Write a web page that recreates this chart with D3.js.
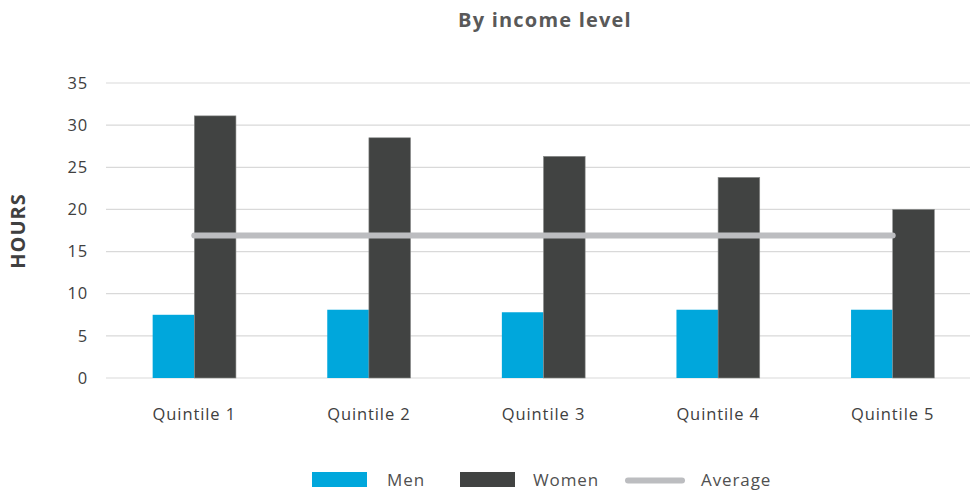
<!DOCTYPE html>
<html><head><meta charset="utf-8">
<script src="https://cdn.jsdelivr.net/npm/d3@7"></script>
<style>body{margin:0;background:#fff;} svg{display:block;font-family:"Open Sans",Lato,sans-serif;}</style>
</head><body>
<svg id="chart" width="970" height="492"></svg>
<script>
const categories = ["Quintile 1","Quintile 2","Quintile 3","Quintile 4","Quintile 5"];
const men = [7.5, 8.1, 7.8, 8.1, 8.1];
const women = [31.1, 28.5, 26.3, 23.8, 20.0];
const average = [16.9, 16.9, 16.9, 16.9, 16.9];
const yTicks = [0,5,10,15,20,25,30,35];
const seriesNames = ["Men","Women","Average"];
const colors = {Men:"#00a7dc", Women:"#414342", Average:"#bcbdc0"};

const svg = d3.select("#chart");
const x0 = d3.scaleBand().domain(categories).range([107, 980]).paddingInner(0.523).paddingOuter(0.2615);
const x1 = d3.scaleBand().domain(["Men","Women"]).range([0, x0.bandwidth()]);
const y = d3.scaleLinear().domain([0,35]).range([378, 83]);

// gridlines
svg.append("g").selectAll("line").data(yTicks).join("line")
  .attr("x1",106).attr("x2",970).attr("y1",d=>y(d)).attr("y2",d=>y(d))
  .attr("stroke","#d9d9d9").attr("stroke-width",1.2);

// y axis labels
const yAxis = d3.axisLeft(y).tickValues(yTicks).tickSize(0).tickPadding(0);
const ya = svg.append("g").attr("transform","translate(88,0)").call(yAxis);
ya.select(".domain").remove();
ya.selectAll("text").attr("font-size",16.5).attr("letter-spacing","0.8px").attr("fill","#404040").attr("font-family","'Open Sans',sans-serif");

// x axis labels
const xAxis = d3.axisBottom(x0).tickSize(0).tickPadding(0);
const xa = svg.append("g").attr("transform","translate(0,420)").call(xAxis);
xa.select(".domain").remove();
xa.selectAll("text").attr("dy",null).attr("y",0).attr("font-size",16.5).attr("letter-spacing","0.9px").attr("fill","#404040").attr("font-family","'Open Sans',sans-serif");

// bars
const groups = svg.append("g").selectAll("g").data(categories).join("g")
  .attr("transform",d=>`translate(${x0(d)},0)`);
groups.append("rect").attr("x",x1("Men")).attr("width",x1.bandwidth())
  .attr("y",(d,i)=>y(men[i])).attr("height",(d,i)=>y(0)-y(men[i])).attr("fill",colors.Men);
groups.append("rect").attr("x",x1("Women")).attr("width",x1.bandwidth())
  .attr("y",(d,i)=>y(women[i])).attr("height",(d,i)=>y(0)-y(women[i])).attr("fill",colors.Women)
  .attr("stroke","#8a8c8b").attr("stroke-width",0.6);

// average line
const line = d3.line().x((d,i)=>x0(categories[i])+x0.bandwidth()/2).y(d=>y(d));
svg.append("path").datum(average).attr("d",line).attr("fill","none")
  .attr("stroke",colors.Average).attr("stroke-width",6).attr("stroke-linecap","round");

// title
svg.append("text").attr("x",545).attr("y",27).attr("text-anchor","middle")
  .attr("font-size",20).attr("letter-spacing","1.2px").attr("font-weight","bold").attr("fill","#595959").text("By income level");

// y title
svg.append("text").attr("transform","translate(25,231) rotate(-90)").attr("text-anchor","middle")
  .attr("font-size",20).attr("letter-spacing","1px").attr("font-weight","bold").attr("fill","#404040").text("HOURS");

// legend
const lg = svg.append("g");
const legendX = [312, 460, 625];
const textX = [387, 533, 701];
seriesNames.forEach((s,i)=>{
  if (s === "Average") {
    lg.append("line").attr("x1",legendX[i]+3).attr("x2",legendX[i]+57).attr("y1",480.5).attr("y2",480.5)
      .attr("stroke",colors.Average).attr("stroke-width",6).attr("stroke-linecap","round");
  } else {
    lg.append("rect").attr("x",legendX[i]).attr("y",472).attr("width",55).attr("height",15).attr("fill",colors[s]);
  }
  lg.append("text").attr("x",textX[i]).attr("y",486).attr("font-size",17).attr("letter-spacing","0.9px").attr("fill","#505050").text(s);
});
</script>
</body></html>
